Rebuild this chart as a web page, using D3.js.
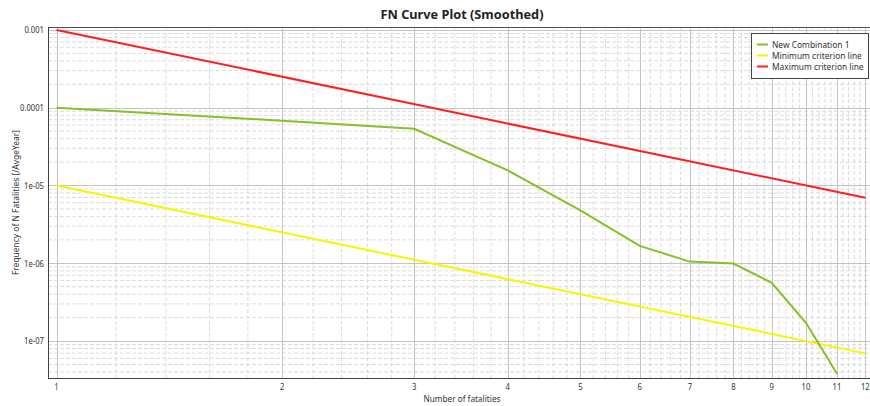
<!DOCTYPE html>
<html><head><meta charset="utf-8">
<script src="https://cdn.jsdelivr.net/npm/d3@7"></script>
<style>body{margin:0;background:#fff}svg{display:block}text{font-family:"Noto Sans","Open Sans",sans-serif}</style>
</head><body><svg id="c" width="870" height="406"></svg>
<script>
const fatalities = [1, 2, 3, 4, 5, 6, 7, 8, 9, 10, 11];
const newCombination = [1.0e-4, 6.8e-5, 5.35e-5, 1.56e-5, 4.8e-6, 1.67e-6, 1.05e-6, 0.99e-6, 5.6e-7, 1.72e-7, 3.8e-8];
const criterionN = [1, 12];
const minCriterion = [1e-5, 6.944e-8];
const maxCriterion = [1e-3, 6.944e-6];
const xTicks = [1, 2, 3, 4, 5, 6, 7, 8, 9, 10, 11, 12];
const yTicks = [1e-7, 1e-6, 1e-5, 1e-4, 1e-3];
const yTickLabels = ["1e-07", "1e-06", "1e-05", "0.0001", "0.001"];
const seriesNames = ["New Combination 1", "Minimum criterion line", "Maximum criterion line"];
const seriesColors = ["#84c225", "#f7f500", "#ff1f1f"];

const svg = d3.select("#c");
const L = 48, R = 876, T = 27, B = 378;
const x = d3.scaleLog().domain([0.974, 12.4]).range([L, R]);
const y = d3.scaleLog().domain([3.35e-8, 1.09e-3]).range([B, T]);

function natWidth(str, size, weight) {
  const t = svg.append("text").attr("font-size", size).attr("font-weight", weight || "normal").text(str);
  const w = t.node().getComputedTextLength();
  t.remove();
  return w;
}
function squeeze(sel, size, factor, weight) {
  sel.each(function () {
    const t = d3.select(this);
    const w = natWidth(t.text(), size, weight);
    t.attr("textLength", w * factor).attr("lengthAdjust", "spacingAndGlyphs");
  });
}
const tickSize = 8.8;
const tickFactor = 24 / natWidth("0.0001", tickSize);
const legSize = 9.2;
const legFactor = 91.5 / natWidth("Maximum criterion line", legSize);
const xLabSize = 9;
const xLabFactor = 77 / natWidth("Number of fatalities", xLabSize);

const g = svg.append("g");
const xMinor = d3.range(1, 12.4, 0.2).map(v => +v.toFixed(1)).filter(v => Math.abs(v - Math.round(v)) > 1e-6);
g.selectAll(".xm").data(xMinor).join("line")
  .attr("x1", d => x(d)).attr("x2", d => x(d)).attr("y1", T).attr("y2", B)
  .attr("stroke", "#dcdcdc").attr("stroke-dasharray", "4,2").attr("stroke-width", 1);
const yMinor = [];
for (let e = -8; e <= -3; e++) for (let m = 2; m <= 9; m++) { const v = m * Math.pow(10, e); if (v > 3.35e-8 && v < 1.09e-3) yMinor.push(v); }
g.selectAll(".ym").data(yMinor).join("line")
  .attr("x1", L).attr("x2", R).attr("y1", d => y(d)).attr("y2", d => y(d))
  .attr("stroke", "#dcdcdc").attr("stroke-dasharray", "4,2").attr("stroke-width", 1);
g.selectAll(".xM").data(xTicks).join("line")
  .attr("x1", d => Math.round(x(d)) + 0.5).attr("x2", d => Math.round(x(d)) + 0.5).attr("y1", T).attr("y2", B)
  .attr("stroke", "#c4c4c4").attr("stroke-width", 1);
g.selectAll(".yM").data(yTicks).join("line")
  .attr("x1", L).attr("x2", R).attr("y1", d => Math.round(y(d)) + 0.5).attr("y2", d => Math.round(y(d)) + 0.5)
  .attr("stroke", "#c4c4c4").attr("stroke-width", 1);

svg.append("line").attr("x1", L).attr("x2", 870).attr("y1", T + 0.5).attr("y2", T + 0.5).attr("stroke", "#505050");
svg.append("line").attr("x1", L + 0.5).attr("x2", L + 0.5).attr("y1", T).attr("y2", B).attr("stroke", "#404040");
svg.append("line").attr("x1", L).attr("x2", 870).attr("y1", B + 0.5).attr("y2", B + 0.5).attr("stroke", "#404040");

const line = d3.line().x(d => x(d[0])).y(d => y(d[1]));
svg.append("path").datum(criterionN.map((n, i) => [n, minCriterion[i]])).attr("d", line)
  .attr("fill", "none").attr("stroke", seriesColors[1]).attr("stroke-width", 2);
svg.append("path").datum(criterionN.map((n, i) => [n, maxCriterion[i]])).attr("d", line)
  .attr("fill", "none").attr("stroke", seriesColors[2]).attr("stroke-width", 2);
svg.append("path").datum(fatalities.map((n, i) => [n, newCombination[i]])).attr("d", line)
  .attr("fill", "none").attr("stroke", seriesColors[0]).attr("stroke-width", 2);

const xt = svg.selectAll(".xt").data(xTicks).join("text")
  .attr("x", d => x(d)).attr("y", 389.5).attr("text-anchor", "middle")
  .attr("font-size", tickSize).attr("fill", (d, i) => i === 0 ? "#3f3f80" : "#333")
  .text(d => d);
squeeze(xt, tickSize, tickFactor);
const yt = svg.selectAll(".yt").data(yTicks).join("text")
  .attr("x", 44).attr("y", d => y(d) + 3.3).attr("text-anchor", "end")
  .attr("font-size", tickSize).attr("fill", "#333")
  .text((d, i) => yTickLabels[i]);
squeeze(yt, tickSize, tickFactor);

svg.append("text").attr("x", 462).attr("y", 18.5).attr("text-anchor", "middle")
  .attr("font-size", 13).attr("font-weight", "bold").attr("fill", "#222")
  .attr("textLength", 163).attr("lengthAdjust", "spacingAndGlyphs").text("FN Curve Plot (Smoothed)");
svg.append("text").attr("transform", `translate(462,401.5) scale(${xLabFactor},1)`).attr("text-anchor", "middle")
  .attr("font-size", xLabSize).attr("fill", "#333").text("Number of fatalities");
svg.append("text").attr("transform", "translate(19,202.5) rotate(-90)").attr("text-anchor", "middle")
  .attr("font-size", 9.3).attr("fill", "#333")
  .attr("textLength", 145).attr("lengthAdjust", "spacingAndGlyphs").text("Frequency of N Fatalities [/AvgeYear]");

const lg = svg.append("g");
lg.append("rect").attr("x", 751.5).attr("y", 33.5).attr("width", 117).attr("height", 45)
  .attr("fill", "#fff").attr("stroke", "#444");
seriesNames.forEach((s, i) => {
  const yy = 44.5 + i * 11;
  lg.append("line").attr("x1", 757).attr("x2", 768).attr("y1", yy).attr("y2", yy)
    .attr("stroke", seriesColors[i]).attr("stroke-width", 2);
  lg.append("text").attr("transform", `translate(772,${yy + 3.3}) scale(${legFactor},1)`)
    .attr("font-size", legSize).attr("fill", "#333").text(s);
});
</script></body></html>
